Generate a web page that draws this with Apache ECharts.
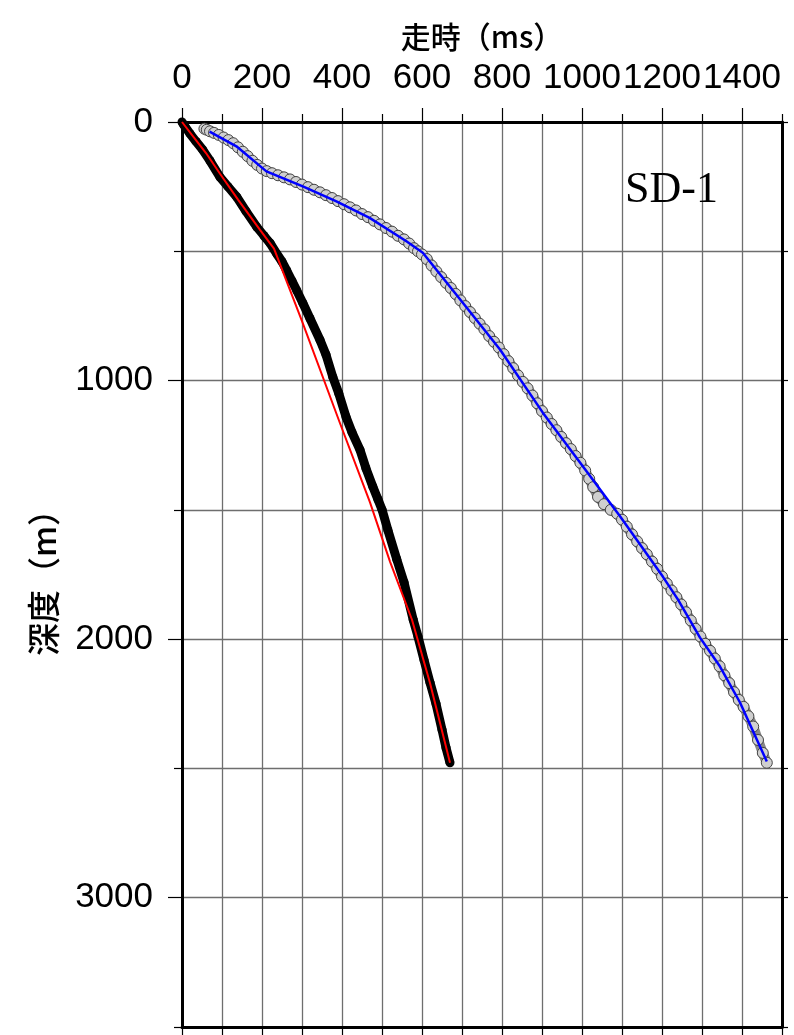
<!DOCTYPE html>
<html>
<head>
<meta charset="utf-8">
<script src="https://cdn.jsdelivr.net/npm/echarts@6/dist/echarts.min.js"></script>
<style>
	html, body { margin: 0; padding: 0; background: #fff; }
	#chart_box { width: 794px; height: 1035px; }
</style>
</head>
<body>
<div id="chart_box"></div>
<script>
/*刻度*/
var timeLabels = [0, 200, 400, 600, 800, 1000, 1200, 1400];
var timeMinorTicks = [100, 300, 500, 700, 900, 1100, 1300, 1500];
var depthLabels = [0, 1000, 2000, 3000];
var depthMinorTicks = [500, 1500, 2500, 3500];

/*P波 实测 (黑)*/
var pObsTime = [0, 4, 8, 20, 35, 52, 70, 95, 115, 137, 160, 187, 205, 220, 237, 250, 262, 275, 287, 302, 320, 345, 360, 377, 392, 410, 425, 445, 460, 477, 490, 500, 515, 537, 555, 578, 590, 605, 620, 635, 650, 660, 670];
var pObsDepth = [0, 10, 19, 45, 75, 108, 150, 213, 250, 290, 345, 406, 440, 468, 510, 540, 575, 615, 652, 700, 760, 843, 900, 986, 1050, 1140, 1200, 1268, 1340, 1410, 1460, 1499, 1580, 1692, 1780, 1925, 1990, 2080, 2168, 2250, 2350, 2420, 2478];
/*P波 拟合 (红)*/
var pFitTime = [0, 30, 60, 95, 140, 195, 230, 300, 395, 470, 520, 575, 620, 670];
var pFitDepth = [0, 60, 120, 200, 300, 417, 490, 770, 1165, 1471, 1700, 1925, 2170, 2478];

/*S波 实测 (灰圈)*/
var sObsTime = [56, 62, 70, 80, 92, 104, 116, 128, 140, 152, 164, 176, 188, 200, 212, 225, 240, 255, 270, 285,
	300, 315, 330, 345, 360, 375, 390, 405, 420, 435, 450, 465, 480, 495, 510, 525, 540, 555, 568, 580,
	590, 600, 612, 624, 636, 648, 660, 672, 684, 696, 708, 720, 732, 744, 756, 768, 780, 792, 804, 816,
	828, 840, 852, 864, 876, 888, 900, 912, 924, 936, 948, 960, 972, 984, 996, 1008, 1018, 1028, 1040, 1055,
	1072, 1088, 1100, 1112, 1125, 1138, 1150, 1162, 1175, 1188, 1200, 1212, 1224, 1236, 1248, 1260, 1272, 1284, 1296, 1308,
	1320, 1332, 1344, 1356, 1368, 1380, 1392, 1404, 1416, 1428, 1440, 1452, 1462];
var sObsDepth = [26, 30, 36, 42, 50, 60, 70, 82, 98, 115, 132, 150, 166, 180, 190, 198, 206, 214, 222, 232,
	242, 252, 262, 272, 283, 294, 306, 318, 330, 342, 356, 368, 382, 396, 410, 424, 440, 454, 470, 488,
	500, 512, 530, 555, 578, 600, 622, 642, 665, 690, 712, 735, 758, 780, 802, 828, 850, 872, 898, 925,
	952, 980, 1005, 1030, 1058, 1088, 1118, 1143, 1168, 1192, 1218, 1242, 1265, 1292, 1318, 1348, 1380, 1412, 1450, 1478,
	1500, 1515, 1538, 1565, 1595, 1622, 1648, 1672, 1700, 1728, 1758, 1785, 1812, 1838, 1866, 1896, 1928, 1960, 1990, 2018,
	2045, 2075, 2105, 2140, 2170, 2205, 2235, 2262, 2298, 2338, 2390, 2440, 2478];
/*S波 拟合 (蓝)*/
var sFitTime = [69, 136, 211, 302, 386, 469, 561, 602, 702, 795, 902, 995, 1095, 1202, 1240, 1295, 1345, 1395, 1462];
var sFitDepth = [37, 94, 191, 249, 307, 371, 461, 506, 699, 880, 1124, 1317, 1525, 1758, 1847, 1994, 2106, 2245, 2473];

function zipXY(xs, ys) {
	var out = [];
	for(var i = 0; i < xs.length; i++) {
		out.push([xs[i], ys[i]]);
	}
	return out;
}
function plainNum(v) {
	return String(v);
}

var myChart = echarts.init(document.getElementById('chart_box'));
var axisLine = { show: true, onZero: false, lineStyle: { color: '#000', width: 3 } };
var noLine = { show: false, onZero: false };
var labelFont = { fontFamily: 'Liberation Sans', fontSize: 35, color: '#000' };
var cjkFont = { fontFamily: 'Noto Sans CJK JP', fontSize: 30, fontWeight: 500, color: '#000' };
var gridLine = { show: true, lineStyle: { color: '#6e6e6e', width: 1.3 } };

var option = {
	animation: false,
	backgroundColor: '#fff',
	title: {
		text: 'SD-1',
		left: 620,
		top: 163,
		textStyle: { fontFamily: 'Liberation Serif', fontSize: 44, fontWeight: 'normal', color: '#000' }
	},
	grid: { left: 182, top: 122, width: 600, height: 905 },
	xAxis: [{
		type: 'value', position: 'top', min: 0, max: 1500,
		name: '走時（ms）', nameLocation: 'middle', nameGap: 70, nameTextStyle: cjkFont,
		axisLine: axisLine,
		axisTick: { show: true, length: 14, customValues: timeLabels, lineStyle: { color: '#000', width: 1.2 } },
		axisLabel: Object.assign({ show: true, margin: 26, customValues: timeLabels, formatter: plainNum }, labelFont),
		splitLine: { show: false }
	}, {
		type: 'value', position: 'top', min: 0, max: 1500,
		axisLine: noLine,
		axisTick: { show: true, length: 8, customValues: timeMinorTicks, lineStyle: { color: '#000', width: 1.2 } },
		axisLabel: { show: false },
		splitLine: { show: false }
	}, {
		type: 'value', position: 'bottom', min: 0, max: 1500, interval: 100,
		axisLine: axisLine,
		axisTick: { show: true, length: 8, lineStyle: { color: '#000', width: 1.2 } },
		axisLabel: { show: false },
		splitLine: gridLine
	}],
	yAxis: [{
		type: 'value', position: 'left', inverse: true, min: 0, max: 3500,
		name: '深度（m）', nameLocation: 'middle', nameGap: 122, nameRotate: 90,
		nameTextStyle: Object.assign({}, cjkFont, { fontSize: 33 }),
		axisLine: axisLine,
		axisTick: { show: true, length: 14, customValues: depthLabels, lineStyle: { color: '#000', width: 1.2 } },
		axisLabel: Object.assign({ show: true, margin: 29, customValues: depthLabels, formatter: plainNum }, labelFont),
		splitLine: { show: false }
	}, {
		type: 'value', position: 'left', inverse: true, min: 0, max: 3500,
		axisLine: noLine,
		axisTick: { show: true, length: 8, customValues: depthMinorTicks, lineStyle: { color: '#000', width: 1.2 } },
		axisLabel: { show: false },
		splitLine: { show: false }
	}, {
		type: 'value', position: 'right', inverse: true, min: 0, max: 3500, interval: 500,
		axisLine: axisLine,
		axisTick: { show: true, length: 6, lineStyle: { color: '#000', width: 1.2 } },
		axisLabel: { show: false },
		splitLine: gridLine
	}],
	series: [{
		name: 'P实测',
		type: 'line',
		data: zipXY(pObsTime, pObsDepth),
		symbol: 'circle',
		symbolSize: 9,
		itemStyle: { color: '#000' },
		lineStyle: { color: '#000', width: 9 },
		z: 3
	}, {
		name: 'P拟合',
		type: 'line',
		data: zipXY(pFitTime, pFitDepth),
		showSymbol: false,
		lineStyle: { color: '#ff0000', width: 2 },
		z: 4
	}, {
		name: 'S实测',
		type: 'line',
		data: zipXY(sObsTime, sObsDepth),
		symbol: 'circle',
		symbolSize: 11,
		itemStyle: { color: '#cfcfcf', borderColor: '#444', borderWidth: 1 },
		lineStyle: { color: '#888', width: 10 },
		z: 3
	}, {
		name: 'S拟合',
		type: 'line',
		data: zipXY(sFitTime, sFitDepth),
		showSymbol: false,
		lineStyle: { color: '#0000ff', width: 2.5 },
		z: 4
	}]
};
myChart.setOption(option);
</script>
</body>
</html>
